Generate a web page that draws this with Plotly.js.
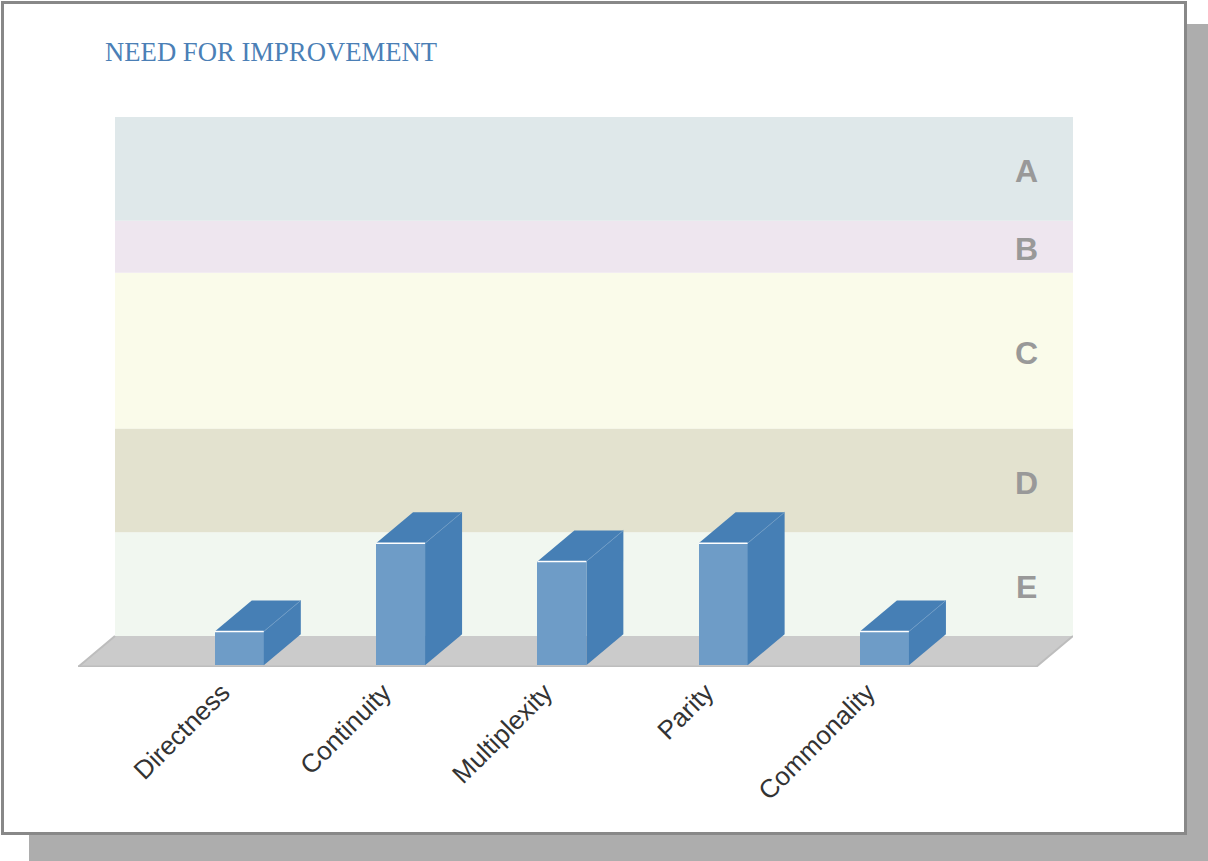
<!DOCTYPE html>
<html>
<head>
<meta charset="utf-8">
<script src="https://cdn.plot.ly/plotly-3.0.1.min.js"></script>
<style>
  html, body { margin: 0; padding: 0; background: #ffffff; }
  #shadow { position: absolute; left: 29px; top: 24px; width: 1179px; height: 837px; background: #adadad; }
  #card { position: absolute; left: 1px; top: 1px; width: 1186px; height: 834px; background: #ffffff; border: 3px solid #888888; box-sizing: border-box; }
  #chart { position: absolute; left: 0; top: 0; width: 1208px; height: 861px; }
</style>
</head>
<body>
<div id="shadow"></div>
<div id="card"></div>
<div id="chart"></div>
<script>
// ---- data ----
const categories = ['Directness', 'Continuity', 'Multiplexity', 'Parity', 'Commonality'];
const values = [0.65, 2.35, 2.0, 2.35, 0.65];
const bandLabels = ['E', 'D', 'C', 'B', 'A'];
const bandEdges = [0, 2, 4, 7, 8, 10];
const bandColors = ['#f1f7f0', '#e3e2cf', '#fafbea', '#eee6ef', '#dfe8ea'];
const chartTitle = 'NEED FOR IMPROVEMENT';

// ---- geometry (style constants) ----
const xMax = 5.94;        // right edge of back wall (category units)
const dx = 0.2294;        // depth offset in x (category units)
const dy = 0.597;         // depth offset in y (value units)
const lift = 0.035;       // bars sit slightly above the floor's front edge
const hw = 0.152;         // half width of bar front face
const frontColor = '#6e9cc7';
const darkColor = '#467fb5';

const positions = categories.map((c, i) => i + 1);
const b0 = -dy + lift;

const traces = [];

// front faces as bars
traces.push({
  type: 'bar',
  x: positions.map(p => p - dx),
  y: values,
  base: values.map(() => b0),
  width: 2 * hw,
  marker: { color: frontColor, line: { width: 0 } },
  hoverinfo: 'skip',
  showlegend: false
});

// side and top faces
positions.forEach((p, i) => {
  const v = values[i];
  const xl = p - dx - hw, xr = p - dx + hw;
  traces.push({
    type: 'scatter', mode: 'lines', fill: 'toself',
    x: [xr, xr, xr + dx, xr + dx, xr],
    y: [b0, b0 + v, b0 + v + dy, b0 + dy, b0],
    fillcolor: darkColor, line: { width: 0, color: darkColor },
    hoverinfo: 'skip', showlegend: false
  });
  traces.push({
    type: 'scatter', mode: 'lines', fill: 'toself',
    x: [xl, xr, xr + dx, xl + dx, xl],
    y: [b0 + v, b0 + v, b0 + v + dy, b0 + v + dy, b0 + v],
    fillcolor: darkColor, line: { width: 0, color: darkColor },
    hoverinfo: 'skip', showlegend: false
  });
});

// highlight edges
const hx = [], hy = [], ex = [], ey = [];
positions.forEach((p, i) => {
  const v = values[i];
  const xl = p - dx - hw, xr = p - dx + hw;
  hx.push(xl, xr, null); hy.push(b0 + v, b0 + v, null);
  ex.push(xr, xr + dx, null); ey.push(b0 + v, b0 + v + dy, null);
});
traces.push({ type: 'scatter', mode: 'lines', x: ex, y: ey, line: { color: '#6f9cc7', width: 0.8 }, hoverinfo: 'skip', showlegend: false });
traces.push({ type: 'scatter', mode: 'lines', x: hx, y: hy, line: { color: '#ffffff', width: 1.5 }, hoverinfo: 'skip', showlegend: false });

// bands and floor
const shapes = [];
for (let i = 0; i < bandLabels.length; i++) {
  shapes.push({
    type: 'rect', xref: 'x', yref: 'y', layer: 'below',
    x0: 0, x1: xMax, y0: bandEdges[i], y1: bandEdges[i + 1],
    fillcolor: bandColors[i], line: { width: 0 }
  });
}
shapes.push({
  type: 'path', xref: 'x', yref: 'y', layer: 'below',
  path: `M 0 0 L ${xMax} 0 L ${xMax - dx} ${-dy} L ${-dx} ${-dy} Z`,
  fillcolor: '#cbcbcb', line: { width: 0 }
});
shapes.push({
  type: 'line', xref: 'x', yref: 'y', layer: 'below',
  x0: -dx, x1: xMax - dx, y0: -dy, y1: -dy,
  line: { color: '#bdbdbd', width: 3 }
});
shapes.push({
  type: 'line', xref: 'x', yref: 'y', layer: 'below',
  x0: -dx, x1: 0, y0: -dy, y1: 0,
  line: { color: '#bdbdbd', width: 2 }
});
shapes.push({
  type: 'line', xref: 'x', yref: 'y', layer: 'below',
  x0: xMax - dx, x1: xMax, y0: -dy, y1: 0,
  line: { color: '#bdbdbd', width: 2 }
});

const annotations = bandLabels.map((lab, i) => ({
  x: 5.654, y: (bandEdges[i] + bandEdges[i + 1]) / 2,
  xref: 'x', yref: 'y', text: lab, showarrow: false,
  xanchor: 'center', yanchor: 'middle', yshift: -2.5,
  font: { family: 'Arial, "Liberation Sans", sans-serif', size: 32, color: '#999999', weight: 'bold' }
}));

const layout = {
  width: 1208, height: 861,
  paper_bgcolor: 'rgba(0,0,0,0)', plot_bgcolor: 'rgba(0,0,0,0)',
  margin: { l: 78, r: 135, t: 117, b: 194, pad: 0 },
  title: {
    text: chartTitle, xref: 'container', yref: 'container',
    x: 105 / 1208, xanchor: 'left', y: 1 - 52 / 861, yanchor: 'middle',
    font: { family: '"Liberation Serif", "Times New Roman", serif', size: 26.7, color: '#4b7fb6' }
  },
  xaxis: {
    range: [-dx, xMax], showgrid: false, zeroline: false, showline: false,
    tickmode: 'array', tickvals: positions.map(p => p - dx), ticktext: categories,
    tickangle: -45, ticks: '', ticklabelshift: -17, ticklabelstandoff: 4,
    tickfont: { family: 'Arial, "Liberation Sans", sans-serif', size: 26, color: '#333333' },
    fixedrange: true
  },
  yaxis: {
    range: [-dy, 10], showgrid: false, zeroline: false, showline: false,
    showticklabels: false, ticks: '', fixedrange: true
  },
  bargap: 0,
  shapes: shapes,
  annotations: annotations,
  showlegend: false
};

Plotly.newPlot('chart', traces, layout, { displayModeBar: false, staticPlot: true });
</script>
</body>
</html>
